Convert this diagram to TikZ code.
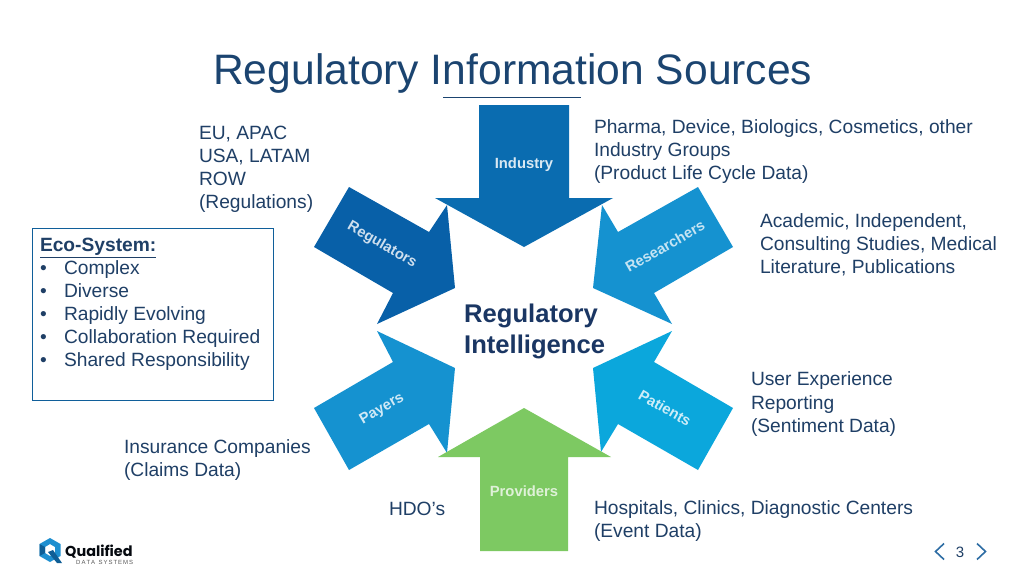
\documentclass[tikz,border=0pt]{standalone}
\usepackage{fontspec}
\setmainfont{Liberation Sans}
\newfontfamily\logofont{Poppins}
\definecolor{inktitle}{HTML}{1B4470}
\definecolor{ink}{HTML}{1F3F66}
\definecolor{inkdark}{HTML}{1A3663}
\definecolor{cindustry}{HTML}{0A6CB0}
\definecolor{cregulators}{HTML}{0860A8}
\definecolor{cresearchers}{HTML}{1592D0}
\definecolor{cpayers}{HTML}{1592D0}
\definecolor{cpatients}{HTML}{0BA7DC}
\definecolor{cproviders}{HTML}{7DC962}
\definecolor{navarrow}{HTML}{2E6DA4}
\definecolor{logoa}{HTML}{1E8FD0}
\definecolor{logob}{HTML}{0F5E96}
\tikzset{
  body/.style={anchor=north west,inner sep=0pt,outer sep=0pt,align=left,text=ink,
    font=\fontsize{19.2}{23}\selectfont,execute at begin node=\strut},
  arrowlabel/.style={inner sep=0pt,font=\fontsize{14.8}{16}\selectfont\bfseries},
}
\begin{document}
\begin{tikzpicture}[x=1pt,y=-1pt]
\useasboundingbox (0,0) rectangle (1024,576);
\fill[white] (0,0) rectangle (1024,576);

\node[anchor=base west,inner sep=0pt,text=inktitle,font=\fontsize{42.6}{50}\selectfont] (title) at (213,84) {Regulatory Information Sources};
\draw[inktitle,line width=0.8pt] (443,97) -- (581,97);

% arrows
\fill[cregulators] (349,187) -- (429,232) -- (447,205) -- (455,288) -- (377,324) -- (393,293) -- (314,247) -- cycle;
\fill[cresearchers] (698,187) -- (618,232) -- (602,205) -- (593,288) -- (672,324) -- (654,293) -- (733,247) -- cycle;
\fill[cpayers] (349,470) -- (429,424) -- (447,453) -- (455,368) -- (377,331) -- (393,362) -- (314,408) -- cycle;
\fill[cpatients] (698,470) -- (618,424) -- (601,452) -- (593,368) -- (672,331) -- (654,362) -- (733,408) -- cycle;
\fill[cindustry] (479,105) -- (569,105) -- (569,198) -- (613,198) -- (524,247) -- (435,198) -- (479,198) -- cycle;
\fill[cproviders] (480,551) -- (568,551) -- (568,457) -- (611,457) -- (524,408) -- (438,457) -- (480,457) -- cycle;

\node[arrowlabel,text=white!85!cindustry] (industry) at (524,165) {Industry};
\node[arrowlabel,text=white!80!cregulators,rotate=-30] (regulators) at (382,245) {Regulators};
\node[arrowlabel,text=white!75!cresearchers,rotate=30] (researchers) at (665,246) {Researchers};
\node[arrowlabel,text=white!80!cpayers,rotate=30] (payers) at (382,409) {Payers};
\node[arrowlabel,text=white!80!cpatients,rotate=-30] (patients) at (665,408) {Patients};
\node[arrowlabel,text=white!75!cproviders] (providers) at (524,491) {Providers};

\node[anchor=north west,inner sep=0pt,align=left,text=inkdark,
  font=\fontsize{25.6}{31}\selectfont\bfseries,execute at begin node=\strut] (centre) at (464,304) {Regulatory\\Intelligence};

% text blocks
\node[body] (regs) at (199,126) {EU, APAC\\USA, LATAM\\ROW\\(Regulations)};
\node[body] (inds) at (594,120) {Pharma, Device, Biologics, Cosmetics, other\\Industry Groups\\(Product Life Cycle Data)};
\node[body] (acad) at (760,214) {Academic, Independent,\\Consulting Studies, Medical\\Literature, Publications};
\node[body,font=\fontsize{19.2}{23.5}\selectfont] (user) at (751,372) {User Experience\\Reporting\\(Sentiment Data)};
\node[body] (insu) at (124,440) {Insurance Companies\\(Claims Data)};
\node[body] (hdo) at (389,499) {HDO’s};
\node[body] (hosp) at (594,501) {Hospitals, Clinics, Diagnostic Centers\\(Event Data)};

% eco-system box
\draw[cindustry!70!ink,line width=0.9pt] (32.5,228.5) rectangle (273,400);
\node[body] (eco) at (40,238) {\textbf{\underline{Eco-System:}}\\
  •\hspace{17.3pt}Complex\\
  •\hspace{17.3pt}Diverse\\
  •\hspace{17.3pt}Rapidly Evolving\\
  •\hspace{17.3pt}Collaboration Required\\
  •\hspace{17.3pt}Shared Responsibility};

% logo
\fill[logoa,even odd rule,line join=round] (50,538) -- (60.5,544) -- (60.5,556) -- (50,562) -- (39.5,556) -- (39.5,544) -- cycle
  (50,544) -- (45,547) -- (45,553) -- (50,556) -- (55,553) -- (55,547) -- cycle;
\fill[logob] (39.5,544) -- (45,547) -- (45,553) -- (39.5,556) -- cycle;
\fill[logob] (48,552) -- (53,550) -- (62,563) -- (57,563) -- cycle;
\node[anchor=base west,inner sep=0pt,text=black!85!ink,font=\logofont\fontsize{14.4}{16}\selectfont\bfseries] (logoname) at (65,556) {Qualified};
\node[anchor=base west,inner sep=0pt,text=black!65,font=\fontsize{6}{7}\selectfont] (logosub) at (76,564) {D\,A\,T\,A\ \ S\,Y\,S\,T\,E\,M\,S};

% page number
\node[inner sep=0pt,text=ink,font=\fontsize{15}{17}\selectfont] (pagenum) at (960,552) {3};
\draw[navarrow,line width=1.6pt] (944,543.5) -- (935.5,551.5) -- (944,559.5);
\draw[navarrow,line width=1.6pt] (977,543.5) -- (985.5,551.5) -- (977,559.5);
\end{tikzpicture}
\end{document}
